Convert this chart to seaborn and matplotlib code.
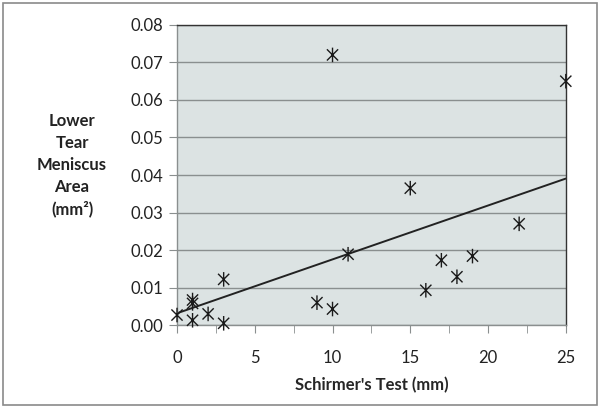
import matplotlib
matplotlib.use("Agg")
import matplotlib.pyplot as plt
from matplotlib.path import Path
from matplotlib.patches import Rectangle
import seaborn as sns
import numpy as np
import pandas as pd

schirmer_mm = [0, 1, 1, 1, 2, 3, 3, 9, 10, 10, 11, 15, 16, 17, 18, 19, 22, 25]
meniscus_area = [0.0027, 0.0067, 0.0058, 0.0013, 0.0030, 0.0122, 0.0005, 0.0060,
                 0.0043, 0.0720, 0.0189, 0.0365, 0.0093, 0.0173, 0.0129, 0.0184,
                 0.0270, 0.0650]
x_ticks = [0, 5, 10, 15, 20, 25]
y_ticks = [0.00, 0.01, 0.02, 0.03, 0.04, 0.05, 0.06, 0.07, 0.08]

df = pd.DataFrame({"x": schirmer_mm, "y": meniscus_area})

# excel style star marker: an X with a vertical bar
star = Path([(-1, -1), (1, 1), (-1, 1), (1, -1), (0, -1.3), (0, 1.3)],
            [Path.MOVETO, Path.LINETO, Path.MOVETO, Path.LINETO, Path.MOVETO, Path.LINETO])

sns.set_style("white")
plt.rcParams['font.family'] = ['Lato', 'DejaVu Sans']

fig = plt.figure(figsize=(6, 4.08), dpi=100)
ax = fig.add_axes([0.295, 0.203, 0.648, 0.736])
ax.set_facecolor("#dce3e3")

sns.scatterplot(data=df, x="x", y="y", marker=star, s=110, color="none",
                edgecolor="#1a1a1a", linewidth=1.0, ax=ax, legend=False,
                clip_on=False, zorder=5)
sns.regplot(data=df, x="x", y="y", ci=None, scatter=False, truncate=True,
            line_kws={"color": "#222222", "lw": 1.4}, ax=ax)

ax.set_xlim(0, 25)
ax.set_ylim(0, 0.08)
ax.set_xticks(x_ticks)
ax.set_xticks(np.arange(2.5, 25, 5), minor=True)
ax.set_yticks(y_ticks)
ax.set_yticklabels([f"{v:.2f}" for v in y_ticks])
ax.yaxis.grid(True, color="#8a8f8f", lw=1.0)
ax.xaxis.grid(False)
ax.set_axisbelow(True)

for side in ["left", "bottom"]:
    ax.spines[side].set_color("#8a8f8f")
    ax.spines[side].set_linewidth(1.0)
for side in ["top", "right"]:
    ax.spines[side].set_color("#333333")
    ax.spines[side].set_linestyle((0, (2, 1)))
    ax.spines[side].set_linewidth(1.0)

ax.tick_params(axis="both", which="both", direction="out", color="#8a8f8f",
               labelsize=12, labelcolor="#222222")
ax.tick_params(axis="y", which="major", length=6, pad=4, left=True)
ax.tick_params(axis="x", which="major", length=6, pad=12, bottom=True)
ax.tick_params(axis="x", which="minor", length=6, bottom=True)

ax.set_xlabel("Schirmer's Test (mm)", fontsize=12, fontweight="bold", labelpad=8)
ax.set_ylabel("")
fig.text(0.12, 0.595, "Lower\nTear\nMeniscus\nArea\n(mm²)", ha="center", va="center",
         fontsize=12, fontweight="bold", linespacing=1.45, color="#222222")

fig.patches.append(Rectangle((0.005, 0.007), 0.99, 0.986, transform=fig.transFigure,
                             fill=False, edgecolor="#8a8a8a", lw=1.2))

fig.savefig("out.png", dpi=100)
